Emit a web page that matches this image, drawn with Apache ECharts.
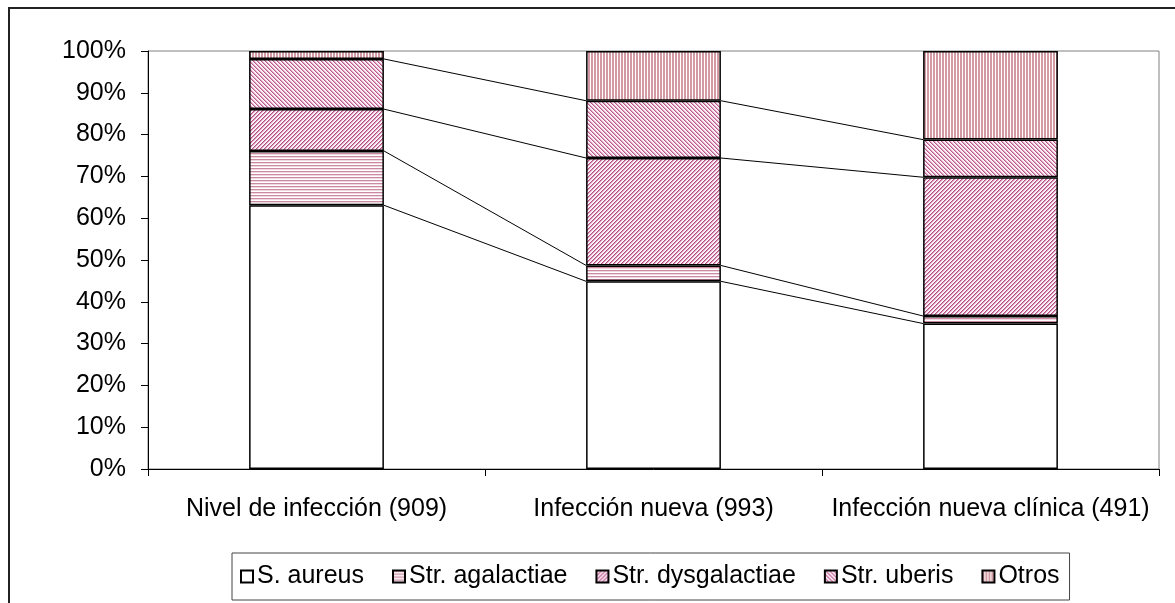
<!DOCTYPE html>
<html>
<head>
<meta charset="utf-8">
<script src="https://cdn.jsdelivr.net/npm/echarts@6/dist/echarts.min.js"></script>
<style>
  html, body { margin: 0; background: #fff; }
  #chart { width: 1175px; height: 603px; }
</style>
</head>
<body>
<div id="chart"></div>
<script>
const categories = ['Nivel de infección (909)', 'Infección nueva (993)', 'Infección nueva clínica (491)']
const seriesNames = ['S. aureus', 'Str. agalactiae', 'Str. dysgalactiae', 'Str. uberis', 'Otros']
const sAureus = [63.1, 44.9, 34.8]
const agalactiae = [13.0, 3.8, 1.8]
const dysgalactiae = [10.0, 25.7, 33.2]
const uberis = [12.0, 13.7, 9.0]
const otros = [1.9, 11.9, 21.2]

// small canvas tiles for the Excel-style hatch fills
const makeTile = (w, h, pick) => {
  const c = document.createElement('canvas')
  c.width = w
  c.height = h
  const ctx = c.getContext('2d')
  for (let x = 0; x < w; x++) {
    for (let y = 0; y < h; y++) {
      ctx.fillStyle = pick(x, y)
      ctx.fillRect(x, y, 1, 1)
    }
  }
  return { image: c, repeat: 'repeat' }
}

const fills = [
  '#ffffff',
  makeTile(1, 3, (x, y) => (y === 0 ? '#c98aa2' : y === 1 ? '#f0d8e1' : '#ffffff')),
  makeTile(4, 4, (x, y) => {
    const k = (x + y) % 4
    return k === 0 ? '#b24d86' : k === 1 ? '#dc98bb' : k === 2 ? '#f6e4ee' : '#ffffff'
  }),
  makeTile(4, 4, (x, y) => {
    const k = (x - y + 8) % 4
    return k === 0 ? '#b8578d' : k === 1 ? '#e2a6c4' : k === 2 ? '#f6e4ee' : '#ffffff'
  }),
  makeTile(3, 1, (x) => (x === 2 ? '#ffffff' : '#d49aa3'))
]

const stacks = [sAureus, agalactiae, dysgalactiae, uberis, otros]

// cumulative tops, used for the series lines between bars
const cum = []
let run = [0, 0, 0]
stacks.forEach((s) => {
  run = run.map((v, i) => v + s[i])
  cum.push(run.slice())
})
const linkData = []
for (let s = 0; s < 4; s++) {
  for (let c = 0; c < categories.length - 1; c++) {
    linkData.push([c, cum[s][c], cum[s][c + 1]])
  }
}

const font = 'Liberation Sans'
const chart = echarts.init(document.getElementById('chart'))

const barSeries = stacks.map((data, i) => ({
  name: seriesNames[i],
  type: 'bar',
  stack: 'total',
  barWidth: '40%',
  data: data,
  itemStyle: {
    color: fills[i],
    borderColor: '#000',
    borderWidth: 1.5
  }
}))

const option = {
  animation: false,
  textStyle: { fontFamily: font },
  graphic: [
    {
      type: 'rect',
      shape: { x: 9, y: 8, width: 1300, height: 800 },
      style: { fill: 'none', stroke: '#222', lineWidth: 2 },
      z: -1
    }
  ],
  grid: {
    left: 148,
    right: 16,
    top: 51,
    bottom: 134,
    show: true,
    borderColor: '#808080',
    borderWidth: 1,
    outerBoundsMode: 'none'
  },
  legend: {
    data: seriesNames,
    left: 232,
    top: 553,
    padding: [11, 10, 11, 8],
    itemGap: 28,
    itemWidth: 12,
    itemHeight: 12,
    icon: 'rect',
    borderColor: '#444',
    borderWidth: 1,
    textStyle: { fontSize: 25, color: '#000', fontFamily: font, padding: [0, 0, 0, -1] }
  },
  xAxis: {
    type: 'category',
    data: categories,
    axisLine: { lineStyle: { color: '#000', width: 1 } },
    axisTick: { show: true, length: 7, lineStyle: { color: '#000' } },
    axisLabel: { interval: 0, fontSize: 25, color: '#000', margin: 28, fontFamily: font }
  },
  yAxis: {
    type: 'value',
    min: 0,
    max: 100,
    interval: 10,
    axisLine: { show: true, lineStyle: { color: '#000', width: 1 } },
    axisTick: { show: true, length: 7, lineStyle: { color: '#000' } },
    splitLine: { show: false },
    axisLabel: { fontSize: 25, color: '#000', margin: 22, fontFamily: font, formatter: '{value}%' }
  },
  series: [
    ...barSeries,
    {
      type: 'custom',
      name: 'lines',
      data: linkData,
      encode: { x: 0, y: [1, 2] },
      renderItem: (params, api) => {
        const c = api.value(0)
        const half = api.size([1, 0])[0] * 0.2
        const p0 = api.coord([c, api.value(1)])
        const p1 = api.coord([c + 1, api.value(2)])
        return {
          type: 'line',
          shape: { x1: p0[0] + half, y1: p0[1], x2: p1[0] - half, y2: p1[1] },
          style: { stroke: '#000', lineWidth: 1 }
        }
      }
    }
  ]
}

chart.setOption(option)
</script>
</body>
</html>
